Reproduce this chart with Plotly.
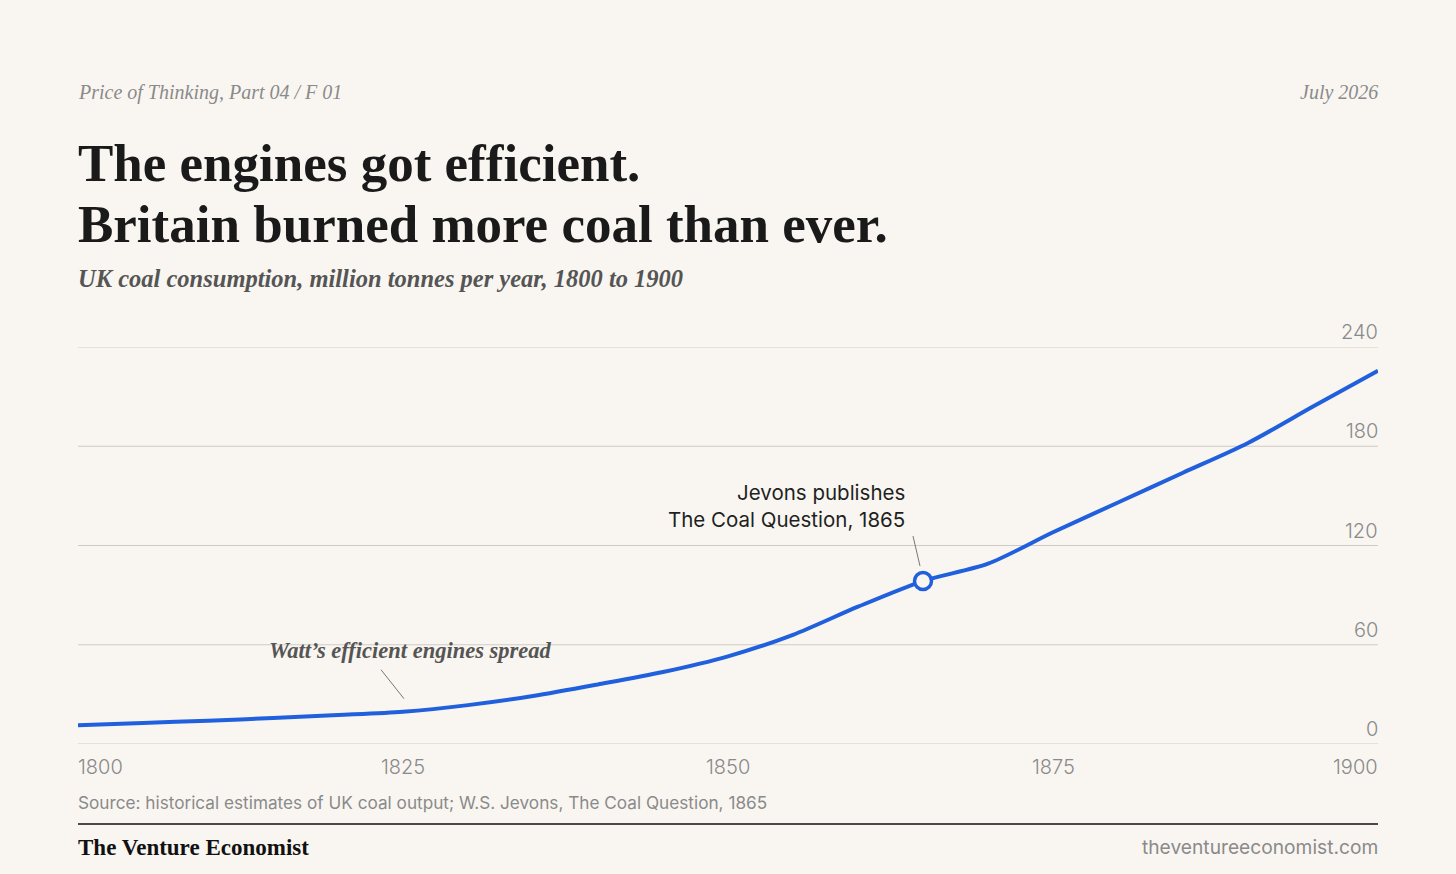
import plotly.graph_objects as go

# data
years = [1800, 1805, 1810, 1815, 1820, 1825, 1830, 1835, 1840, 1845, 1850,
         1855, 1860, 1865, 1870, 1875, 1880, 1885, 1890, 1895, 1900]
coal_mt = [11.3, 12.7, 14.1, 15.7, 17.5, 19.5, 23.5, 29.0, 36.0, 43.5, 53.0,
           66.0, 83.0, 98.5, 109.0, 128.0, 146.0, 164.0, 182.0, 204.0, 225.6]
x_ticks = [1800, 1825, 1850, 1875, 1900]
y_ticks = [0, 60, 120, 180, 240]
jevons_year = 1865
watt_year = 1825

BG = "#f9f6f1"
BLUE = "#2160dc"
GREY = "#8a8a8a"
GRID = "#cfcbc4"
SERIF = "Liberation Serif"
SANS = "Inter"

W, H = 1456, 874
L, R, T, B = 78, 1378, 347, 744


def px(x):
    return (x - L) / (R - L)


def py(y):
    return (B - y) / (B - T)


val = dict(zip(years, coal_mt))

fig = go.Figure()
fig.add_trace(go.Scatter(
    x=years, y=coal_mt, mode="lines",
    line=dict(color=BLUE, width=4, shape="spline", smoothing=0.8),
    hoverinfo="skip", cliponaxis=False,
))
fig.add_trace(go.Scatter(
    x=[jevons_year], y=[val[jevons_year]], mode="markers",
    marker=dict(size=17, color=BG, line=dict(color=BLUE, width=3.5)),
    hoverinfo="skip",
))

ann = []


def text(x, y, s, size, color, font=SANS, anchor="left", weight=None, style=None):
    f = dict(family=font, size=size, color=color)
    if weight:
        f["weight"] = weight
    if style:
        f["style"] = style
    shift = {"left": -2, "right": 2, "center": 0}[anchor]
    ann.append(dict(x=px(x), y=py(y), xref="paper", yref="paper", text=s,
                    showarrow=False, xanchor=anchor, yanchor="middle", xshift=shift,
                    align=anchor if anchor != "center" else "center", font=f))


# header
text(L, 93, "Price of Thinking, Part 04 / F 01", 20, GREY, SERIF, style="italic")
text(R, 93, "July 2026", 20, GREY, SERIF, anchor="right", style="italic")
text(L, 163, "The engines got efficient.", 53, "#1a1a1a", SERIF, weight="bold")
text(L, 224, "Britain burned more coal than ever.", 53, "#1a1a1a", SERIF, weight="bold")
text(L, 278, "UK coal consumption, million tonnes per year, 1800 to 1900", 24.5, "#555555",
     SERIF, weight="bold", style="italic")

# x tick labels, first left aligned and last right aligned
for i, yr in enumerate(x_ticks):
    a = "left" if i == 0 else ("right" if i == len(x_ticks) - 1 else "center")
    ann.append(dict(x=yr, y=py(767), xref="x", yref="paper", text=str(yr),
                    showarrow=False, xanchor=a, yanchor="middle",
                    xshift={"left": -2, "right": 2, "center": 0}[a],
                    font=dict(family=SANS, size=20, color=GREY, weight=300)))

# y tick labels sit above their gridline, right aligned
for v in y_ticks:
    ann.append(dict(x=1, y=v, xref="paper", yref="y", text=str(v), showarrow=False,
                    xanchor="right", yanchor="bottom", xshift=2, yshift=1,
                    font=dict(family=SANS, size=20, color=GREY, weight=300)))

# annotations
text(905, 506, "Jevons publishes<br>The Coal Question, 1865", 20.5, "#1f1f1f", SANS, anchor="right")
text(410, 650, "Watt\u2019s efficient engines spread", 22.5, "#555555", SERIF, anchor="center",
     weight="bold", style="italic")

# footer
text(L, 802, "Source: historical estimates of UK coal output; W.S. Jevons, The Coal Question, 1865",
     17.2, GREY, SANS)
text(L, 847, "The Venture Economist", 23, "#111111", SERIF, weight="bold")
text(R, 847, "theventureeconomist.com", 19.2, GREY, SANS, anchor="right")

shapes = [
    dict(type="line", xref="paper", yref="y", x0=0, x1=1, y0=v, y1=v, layer="below",
         line=dict(color=GRID, width=1))
    for v in y_ticks
]
shapes += [
    dict(type="line", xref="paper", yref="paper", x0=0, x1=1, y0=py(824), y1=py(824),
         line=dict(color="#111111", width=1.5)),
    dict(type="line", xref="x", yref="y", xsizemode="pixel", ysizemode="pixel",
         xanchor=jevons_year, yanchor=val[jevons_year], x0=-10, y0=45, x1=-3, y1=15,
         line=dict(color="#777777", width=1)),
    dict(type="line", xref="x", yref="y", xsizemode="pixel", ysizemode="pixel",
         xanchor=watt_year, yanchor=val[watt_year], x0=-22, y0=42, x1=1, y1=13,
         line=dict(color="#777777", width=1)),
]

fig.update_layout(
    width=W, height=H,
    margin=dict(l=L, r=W - R, t=T, b=H - B),
    paper_bgcolor=BG, plot_bgcolor=BG,
    showlegend=False,
    annotations=ann, shapes=shapes,
    xaxis=dict(range=[1800, 1900], showgrid=False, zeroline=False, showticklabels=False,
               showline=False, fixedrange=True),
    yaxis=dict(range=[0, 240], showgrid=False, zeroline=False, showline=False,
               showticklabels=False, fixedrange=True),
)

fig.write_html("out.html", config={"displayModeBar": False},
               post_script="document.body.style.margin='0';document.body.style.background='%s';" % BG)
